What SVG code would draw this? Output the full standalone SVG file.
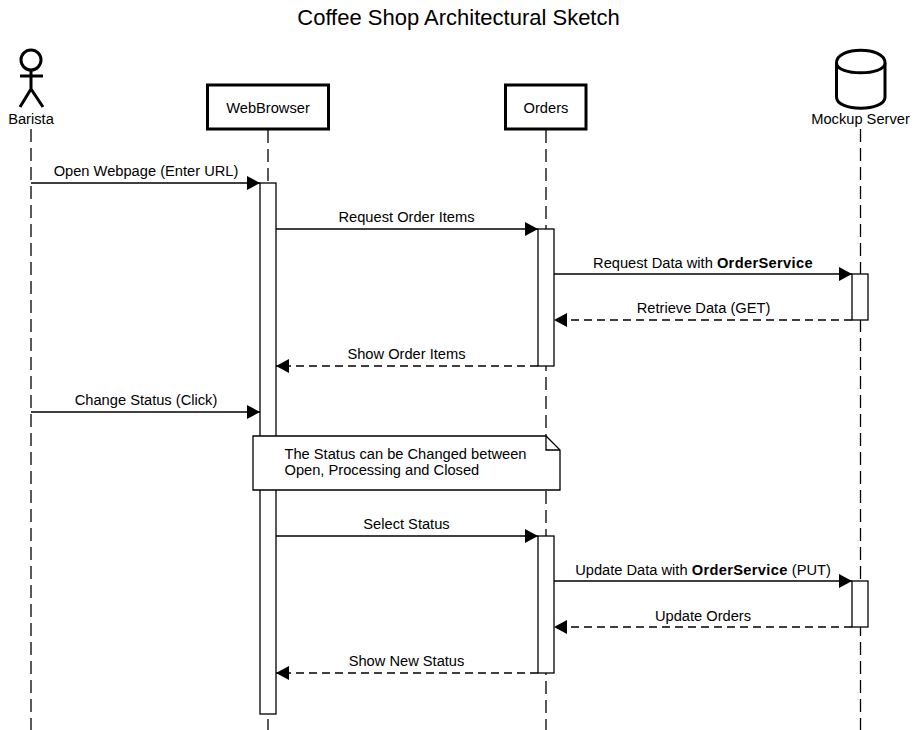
<svg xmlns="http://www.w3.org/2000/svg" width="917" height="730" viewBox="0 0 917 730">
<defs>
<marker id="arrow" markerUnits="userSpaceOnUse" markerWidth="14" markerHeight="14" refX="13" refY="7" orient="auto"><path d="M0 0L13 7L0 14Z" fill="#000"/></marker>
</defs>
<style>
text{font-family:"Liberation Sans",Arial,sans-serif;font-size:14.670px;fill:#000}
.c{text-anchor:middle}
.b{font-weight:bold;letter-spacing:.33px}
.life{stroke:#000;stroke-width:1.3;stroke-dasharray:13 6;fill:none}
.box{fill:#fff;stroke:#000;stroke-width:3}
.shape{fill:#fff;stroke:#000;stroke-width:3;stroke-linejoin:round}
.act{fill:#fff;stroke:#000;stroke-width:1.3}
.msg{stroke:#000;stroke-width:1.3;fill:none;marker-end:url(#arrow)}
.ret{stroke-dasharray:8 5}
</style>
<rect width="917" height="730" fill="#fff"/>
<text class="c" x="458.500" y="24.500" style="font-size:22px">Coffee Shop Architectural Sketch</text>
<g id="lifelines">
<line class="life" x1="31" y1="129" x2="31" y2="730"/>
<line class="life" x1="268" y1="130" x2="268" y2="730"/>
<line class="life" x1="546" y1="130" x2="546" y2="730"/>
<line class="life" x1="860.500" y1="129" x2="860.500" y2="730"/>
</g>
<g id="barista">
<circle class="shape" cx="31" cy="60" r="10"/>
<path class="shape" d="M31 70V89M20 76H43M20 107L31 89L43 107" fill="none"/>
<text class="c" x="31" y="124">Barista</text>
</g>
<g id="webbrowser">
<rect class="box" x="207.500" y="85" width="121" height="44"/>
<text class="c" x="268" y="113">WebBrowser</text>
</g>
<g id="orders">
<rect class="box" x="505.500" y="85" width="80.500" height="44"/>
<text class="c" x="546" y="113">Orders</text>
</g>
<g id="mockup-server">
<path class="shape" d="M836.500 63C836.500 46 885 46 885 63V97C885 112 836.500 112 836.500 97Z"/>
<path class="shape" d="M836.500 63C836.500 76 885 76 885 63" fill="none"/>
<text class="c" x="860.500" y="124">Mockup Server</text>
</g>
<g id="activations">
<rect class="act" x="260" y="183" width="16" height="531"/>
<rect class="act" x="538" y="229" width="16" height="137"/>
<rect class="act" x="852" y="274" width="16" height="46"/>
<rect class="act" x="538" y="536" width="16" height="137"/>
<rect class="act" x="852" y="581" width="16" height="46"/>
</g>
<g id="connectors">
<line class="msg" x1="31" y1="183" x2="260" y2="183"/>
<line class="msg" x1="276" y1="229" x2="538" y2="229"/>
<line class="msg" x1="554" y1="274" x2="852" y2="274"/>
<line class="msg ret" x1="852" y1="320" x2="554" y2="320"/>
<line class="msg ret" x1="538" y1="366" x2="276" y2="366"/>
<line class="msg" x1="31" y1="412" x2="260" y2="412"/>
<line class="msg" x1="276" y1="536" x2="538" y2="536"/>
<line class="msg" x1="554" y1="581" x2="852" y2="581"/>
<line class="msg ret" x1="852" y1="627" x2="554" y2="627"/>
<line class="msg ret" x1="538" y1="673" x2="276" y2="673"/>
</g>
<g id="labels">
<text class="c" x="146" y="176">Open Webpage (Enter URL)</text>
<text class="c" x="406.500" y="222">Request Order Items</text>
<text class="c" x="703" y="268">Request Data with <tspan class="b">OrderService</tspan></text>
<text class="c" x="703.500" y="313">Retrieve Data (GET)</text>
<text class="c" x="406.500" y="359">Show Order Items</text>
<text class="c" x="146" y="405">Change Status (Click)</text>
<text class="c" x="406.500" y="529">Select Status</text>
<text class="c" x="703" y="575">Update Data with <tspan class="b">OrderService</tspan> (PUT)</text>
<text class="c" x="703" y="621">Update Orders</text>
<text class="c" x="406.500" y="666">Show New Status</text>
</g>
<g id="note">
<path d="M253 436H546L560 450V490H253Z" fill="#fff" stroke="#000" stroke-width="1.3"/>
<path d="M546 436V450H560" fill="none" stroke="#000" stroke-width="1.3"/>
<text x="284.500" y="459">The Status can be Changed between</text>
<text x="284.500" y="475">Open, Processing and Closed</text>
</g>
</svg>
